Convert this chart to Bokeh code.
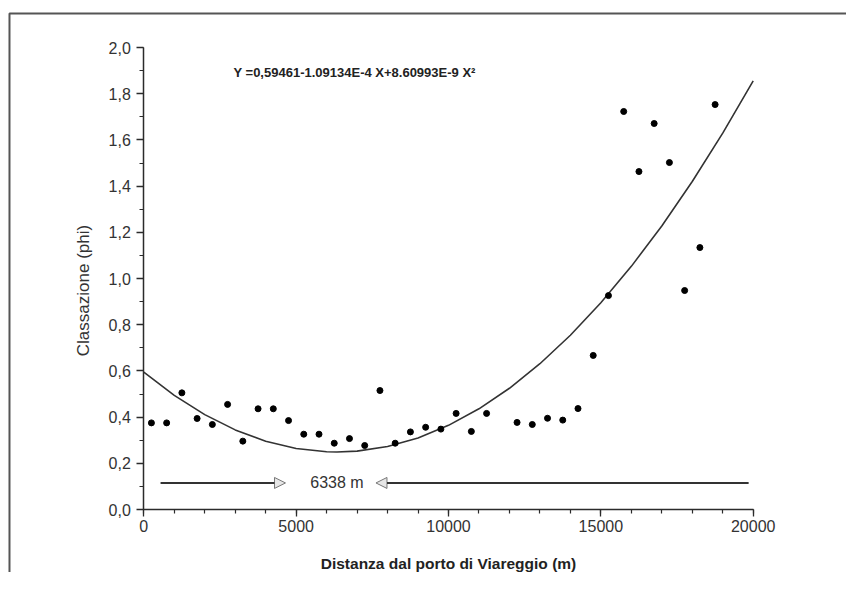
import math
from bokeh.plotting import figure
from bokeh.models import (Range1d, SingleIntervalTicker, CustomJSTickFormatter, Label,
                          Arrow, NormalHead, BoxAnnotation)
from bokeh.embed import file_html
from bokeh.resources import INLINE

# ---- data ----
distance_m = [250, 750, 1250, 1750, 2250, 2750, 3250, 3750, 4250, 4750, 5250, 5750,
              6250, 6750, 7250, 7750, 8250, 8750, 9250, 9750, 10250, 10750, 11250,
              12250, 12750, 13250, 13750, 14250, 14750, 15250, 15750, 16250, 16750,
              17250, 17750, 18250, 18750]
classazione = [0.375, 0.375, 0.505, 0.394, 0.368, 0.455, 0.296, 0.436, 0.436, 0.385,
               0.326, 0.326, 0.287, 0.307, 0.277, 0.515, 0.287, 0.336, 0.356, 0.348,
               0.416, 0.338, 0.416,
               0.377, 0.368, 0.395, 0.387, 0.437, 0.667, 0.926, 1.723, 1.463, 1.671,
               1.502, 0.948, 1.134, 1.753]

# fitted curve (as drawn in the reference)
fit_x = [0, 1000, 2000, 3000, 4000, 5000, 6000, 6338, 7000, 8000, 9000, 10000, 11000,
         12000, 13000, 14000, 15000, 16000, 17000, 18000, 19000, 20000]
fit_y = [0.5946, 0.4941, 0.4108, 0.3447, 0.2958, 0.2642, 0.2498, 0.2488, 0.2526, 0.2726,
         0.3098, 0.3643, 0.4359, 0.5248, 0.6310, 0.7543, 0.8948, 1.0526, 1.2276, 1.4198,
         1.6292, 1.8559]

equation = "Y =0,59461-1.09134E-4 X+8.60993E-9 X\u00b2"
vertex_label = "6338 m"
vertex_x = 6338
arrow_y = 0.115
left_arrow = [550, 4650]
right_arrow = [19850, 7620]

x_title = "Distanza dal porto di Viareggio (m)"
y_title = "Classazione (phi)"

FONT = "Liberation Sans"
INK = "#2b2b2b"

W, H = 846, 572
p = figure(width=W, height=H, output_backend="svg", toolbar_location=None,
           min_border_left=0, min_border_right=0, min_border_top=0, min_border_bottom=0,
           x_range=Range1d(-4703, 23062), y_range=Range1d(-0.2727, 2.2035))
p.title = None
p.outline_line_color = None
p.grid.visible = False
p.background_fill_color = "white"
p.border_fill_color = "white"

# axes crossing at the origin
for ax in (p.xaxis[0], p.yaxis[0]):
    ax.fixed_location = 0
    ax.axis_line_color = INK
    ax.axis_line_width = 1.5
    ax.major_tick_line_color = INK
    ax.minor_tick_line_color = INK
    ax.major_tick_line_width = 1.3
    ax.minor_tick_line_width = 1.2
    ax.major_tick_in = 0
    ax.major_tick_out = 7
    ax.minor_tick_in = 0
    ax.minor_tick_out = 4
    ax.major_label_text_font = FONT
    ax.major_label_text_font_size = "16px"
    ax.major_label_text_color = "#333333"

p.xaxis[0].bounds = (0, 20000)
p.xaxis[0].ticker = SingleIntervalTicker(interval=5000, num_minor_ticks=5)
p.xaxis[0].major_label_standoff = 3

p.yaxis[0].bounds = (0, 2.0)
p.yaxis[0].ticker = SingleIntervalTicker(interval=0.2, num_minor_ticks=2)
p.yaxis[0].formatter = CustomJSTickFormatter(code="return tick.toFixed(1).replace('.', ',');")
p.yaxis[0].major_label_standoff = 6

# frame of the scanned page: only its top and left edges fall inside the canvas
p.add_layout(BoxAnnotation(left=-4408, right=60000, top=2.147, bottom=-5,
                           fill_color=None, fill_alpha=0, line_color="#555555",
                           line_alpha=1.0, line_width=2))

# fit curve and points
p.line(fit_x, fit_y, line_color="#333333", line_width=1.6)
p.scatter(distance_m, classazione, marker="circle", size=6, fill_color="black",
          line_color="black")

# equation
p.add_layout(Label(x=2944, y=1.892, text=equation, text_font=FONT, text_font_size="13px",
                   text_font_style="bold", text_color="#222222",
                   text_align="left", text_baseline="middle"))

# arrows and vertex label
head = dict(size=11, fill_color="#e6e6e6", line_color="#777777", line_width=1)
p.add_layout(Arrow(end=NormalHead(**head), x_start=left_arrow[0], y_start=arrow_y,
                   x_end=left_arrow[1], y_end=arrow_y, line_color="#333333", line_width=2))
p.add_layout(Arrow(end=NormalHead(**head), x_start=right_arrow[0], y_start=arrow_y,
                   x_end=right_arrow[1], y_end=arrow_y, line_color="#333333", line_width=2))
p.add_layout(Label(x=vertex_x, y=arrow_y, text=vertex_label, text_font=FONT,
                   text_font_size="16px", text_color="#333333",
                   text_align="center", text_baseline="middle"))

# axis titles
p.add_layout(Label(x=10000, y=-0.234, text=x_title, text_font=FONT, text_font_size="15.5px",
                   text_font_style="bold", text_color="#222222",
                   text_align="center", text_baseline="middle"))
p.add_layout(Label(x=-1979, y=0.948, text=y_title, text_font=FONT, text_font_size="17px",
                   text_color="#333333", angle=math.pi / 2,
                   text_align="center", text_baseline="middle"))

open("out.html", "w").write(file_html(p, INLINE))
